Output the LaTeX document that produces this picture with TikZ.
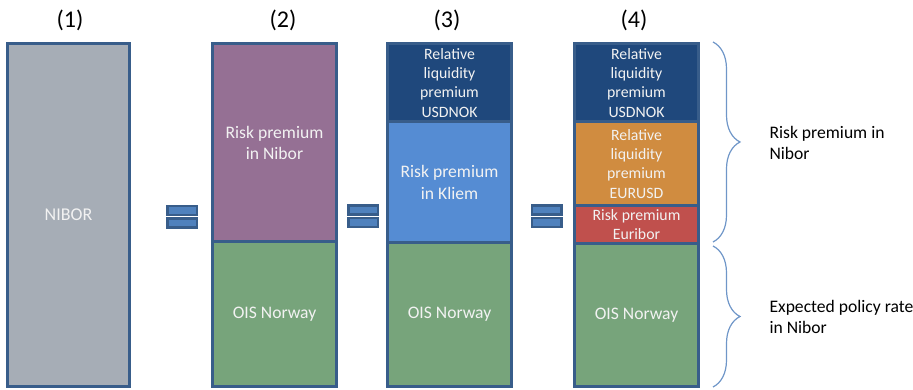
\documentclass[tikz,border=0pt]{standalone}
\usepackage{fontspec}
\setmainfont{Carlito}
\usetikzlibrary{positioning,decorations.pathreplacing}
\definecolor{edgeblue}{HTML}{385D8A}
\definecolor{niborgray}{HTML}{A6ADB6}
\definecolor{rppurple}{HTML}{957094}
\definecolor{oisgreen}{HTML}{77A47B}
\definecolor{usddark}{HTML}{1F487C}
\definecolor{kliemblue}{HTML}{558CD3}
\definecolor{eurorange}{HTML}{D08C40}
\definecolor{euribred}{HTML}{C0504D}
\definecolor{eqfill}{HTML}{4F81BD}
\definecolor{bracecol}{HTML}{6F96C8}
\definecolor{boxtext}{HTML}{F2F2F2}
\begin{document}
\begin{tikzpicture}[x=1pt, y=-1pt, node distance=0pt,
    part/.style={rectangle, draw=edgeblue, line width=3pt, outer sep=0pt, inner sep=1pt,
      minimum width=124pt, text=boxtext, align=center},
    big/.style={font=\fontsize{17.6}{21.5}\selectfont},
    small/.style={font=\fontsize{15.8}{19.4}\selectfont},
    eqbar/.style={rectangle, draw=edgeblue, fill=eqfill, line width=2.5pt, outer sep=0pt,
      minimum width=29.5pt, minimum height=9pt, inner sep=0pt},
    curly/.style={draw=bracecol, line width=1.2pt, decorate, decoration={brace, amplitude=27pt}}]
        \tikzstyle{every node}=[font=\fontsize{17.6}{21.5}\selectfont]
        \useasboundingbox (0,0) rectangle (913,390);

          % column headers
          \node (h1) at (70,20) {\fontsize{24}{28}\selectfont (1)};
          \node (h2) at (283,20) {\fontsize{24}{28}\selectfont (2)};
          \node (h3) at (447,20) {\fontsize{24}{28}\selectfont (3)};
          \node (h4) at (634,20) {\fontsize{24}{28}\selectfont (4)};

          % (1)
          \node[part, fill=niborgray, minimum width=122pt, minimum height=342.5pt, font=\fontsize{18}{22}\selectfont] (nibor1) at (68.5,214.75) {NIBOR};

          % (2)
          \node[part, fill=rppurple, minimum height=198.5pt, big, anchor=north] (rp2) at (274.5,43.5) {Risk premium\\in Nibor};
          \node[part, fill=oisgreen, minimum height=144pt, big] (ois2) [below=of rp2] {OIS Norway};

          % (3)
          \node[part, fill=usddark, minimum height=78.5pt, small, anchor=north] (usd3) at (449.5,43.5) {Relative\\liquidity\\premium\\USDNOK};
          \node[part, fill=kliemblue, minimum height=121pt, big] (kliem3) [below=of usd3] {Risk premium\\in Kliem};
          \node[part, fill=oisgreen, minimum height=143pt, big] (ois3) [below=of kliem3] {OIS Norway};

          % (4)
          \node[part, fill=usddark, minimum height=78.5pt, small, anchor=north] (usd4) at (636.5,43.5) {Relative\\liquidity\\premium\\USDNOK};
          \node[part, fill=eurorange, minimum height=83.5pt, small] (eur4) [below=of usd4] {Relative\\liquidity\\premium\\EURUSD};
          \node[part, fill=euribred, minimum height=38.5pt, small] (euribor4) [below=of eur4] {Risk premium\\Euribor};
          \node[part, fill=oisgreen, minimum height=142pt, big] (ois4) [below=of euribor4] {OIS Norway};

          % equals signs
          \node[eqbar] (eq1a) at (182,210.5) {};
          \node[eqbar] (eq1b) [below=3.5pt of eq1a] {};
          \node[eqbar] (eq2a) at (363,210) {};
          \node[eqbar] (eq2b) [below=3.5pt of eq2a] {};
          \node[eqbar] (eq3a) at (546.5,210) {};
          \node[eqbar] (eq3b) [below=3.5pt of eq3a] {};

          % braces and their labels
          \coordinate (rptop) at (713,42);
          \coordinate (rpbot) at (713,242);
          \coordinate (exptop) at (713,246);
          \coordinate (expbot) at (713,387);
          \draw[curly] (rptop) -- (rpbot);
          \draw[curly] (exptop) -- (expbot);

          \node[anchor=west, align=left] (rplab) at (766,143) {Risk premium in\\Nibor};
          \node[anchor=west, align=left] (explab) at (766,317) {Expected policy rate\\in Nibor};

        \end{tikzpicture}
\end{document}
